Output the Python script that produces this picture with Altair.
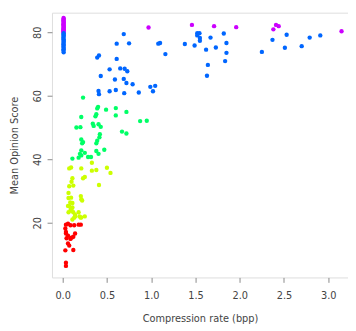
import altair as alt
import pandas as pd

# Compression rate (bpp) and Mean Opinion Score
rate = [
    # column at ~0 bpp
    0.010, 0.012, 0.008, 0.011, 0.009, 0.012, 0.010, 0.008, 0.011, 0.010, 0.012, 0.009, 0.010, 0.011, 0.008, 0.010,
    0.011, 0.009, 0.012, 0.010, 0.008, 0.011, 0.010, 0.012, 0.009, 0.010, 0.011, 0.008, 0.012, 0.010, 0.009, 0.011,
    # magenta
    0.97, 1.46, 1.71, 1.96, 2.38, 2.41, 2.44, 3.15,
    # blue
    0.69, 0.61, 0.75, 0.41, 0.39, 0.61, 0.53, 0.65, 0.70, 0.73, 0.43, 0.59, 0.69, 0.72, 0.79, 0.405,
    0.41, 0.53, 0.60, 0.695, 0.86, 0.99, 1.045, 1.02, 1.10, 1.08, 1.16, 1.52, 1.545, 1.52, 1.55, 1.55,
    1.67, 1.38, 1.49, 1.62, 1.73, 1.82, 1.85, 1.85, 1.835, 1.64, 1.63, 2.25, 2.37, 2.53, 2.51, 2.70,
    2.79, 2.91,
    # green
    0.23, 0.40, 0.39, 0.49, 0.60, 0.72, 0.21, 0.37, 0.38, 0.60, 0.875, 0.95, 0.34, 0.35, 0.405, 0.43,
    0.155, 0.20, 0.42, 0.415, 0.67, 0.72, 0.21, 0.23, 0.22, 0.39, 0.38, 0.21, 0.195, 0.21, 0.25, 0.287,
    0.32, 0.38, 0.405, 0.47, 0.11, 0.18,
    # yellow
    0.33, 0.095, 0.074, 0.21, 0.33, 0.38, 0.50, 0.54, 0.25, 0.11, 0.23, 0.10, 0.074, 0.12, 0.41, 0.066,
    0.095, 0.066, 0.205, 0.21, 0.22, 0.085, 0.11, 0.06, 0.074, 0.11, 0.10, 0.09, 0.095, 0.12, 0.18, 0.066,
    0.14, 0.14, 0.19, 0.21, 0.25, 0.13, 0.205, 0.11,
    # red
    0.037, 0.06, 0.088, 0.13, 0.18, 0.205, 0.03, 0.037, 0.037, 0.14, 0.06, 0.044, 0.088, 0.10, 0.12, 0.06,
    0.074, 0.03, 0.12, 0.037, 0.037,
]

mos = [
    84.5, 84.2, 83.9, 83.6, 83.3, 83.0, 82.7, 82.4, 82.1, 81.8, 81.5, 81.2, 80.9, 80.6, 80.3, 80.0,
    79.7, 79.3, 79.0, 78.6, 78.2, 77.8, 77.4, 77.0, 76.6, 76.2, 75.8, 75.4, 75.0, 74.6, 74.2, 73.7,
    81.5, 82.3, 81.9, 81.6, 80.9, 82.3, 81.9, 80.3,
    79.4, 76.4, 76.5, 72.7, 72.0, 71.6, 68.3, 68.6, 68.5, 67.7, 66.2, 65.1, 65.3, 64.0, 63.6, 61.5,
    60.5, 61.4, 61.8, 60.8, 61.0, 62.8, 63.1, 61.4, 76.6, 76.4, 73.1, 79.7, 79.7, 79.0, 78.2, 77.3,
    78.3, 76.3, 75.8, 74.5, 75.2, 79.6, 76.6, 73.5, 70.9, 69.7, 66.3, 73.8, 77.6, 79.2, 75.1, 75.6,
    78.3, 79.0,
    59.4, 56.5, 56.0, 55.6, 56.1, 54.9, 53.3, 53.5, 54.2, 53.8, 52.0, 52.1, 51.2, 50.5, 51.0, 50.2,
    50.0, 50.1, 47.9, 46.9, 48.7, 48.1, 46.2, 45.4, 45.0, 45.8, 45.0, 42.8, 41.7, 41.2, 42.0, 40.7,
    40.7, 42.6, 41.7, 43.0, 40.2, 40.5,
    38.9, 37.4, 37.1, 37.1, 36.4, 36.6, 37.3, 35.7, 34.4, 34.0, 34.0, 32.9, 31.5, 31.7, 31.9, 29.4,
    27.9, 27.8, 28.4, 27.4, 27.0, 26.4, 26.2, 25.3, 25.3, 24.8, 24.3, 24.3, 23.8, 23.3, 23.3, 23.3,
    22.5, 22.0, 22.0, 21.7, 22.0, 21.6, 21.6, 21.0,
    19.4, 19.7, 19.2, 19.2, 19.4, 19.4, 18.2, 17.1, 16.6, 16.6, 15.9, 15.1, 14.9, 15.3, 15.6, 13.5,
    12.8, 11.3, 11.4, 7.4, 6.4,
]

x_ticks = [0.0, 0.5, 1.0, 1.5, 2.0, 2.5, 3.0]
y_ticks = [20, 40, 60, 80]
bins = [20, 40, 60, 80]
palette = ["#FF0000", "#CCFF00", "#00FF66", "#0066FF", "#CC00FF"]

df = pd.DataFrame({"rate": rate, "mos": mos})

font = "DejaVu Sans"
chart = (
    alt.Chart(df)
    .mark_circle(size=20, opacity=1)
    .encode(
        x=alt.X(
            "rate:Q",
            scale=alt.Scale(domain=[-0.121, 3.223], nice=False, zero=False),
            axis=alt.Axis(
                values=x_ticks, format=".1f", title="Compression rate (bpp)",
                grid=False, domain=False, tickSize=5, tickColor="#888",
                labelFont=font, labelFontSize=10, labelColor="#444", labelPadding=9,
                titleFont=font, titleFontSize=10, titleColor="#444", titleFontWeight="normal",
                titlePadding=13,
            ),
        ),
        y=alt.Y(
            "mos:Q",
            scale=alt.Scale(domain=[2.77, 86.15], nice=False, zero=False),
            axis=alt.Axis(
                values=y_ticks, title="Mean Opinion Score",
                grid=False, domain=False, tickSize=5, tickColor="#888",
                labelAngle=270, labelAlign="center", labelBaseline="bottom",
                labelFont=font, labelFontSize=10, labelColor="#444", labelPadding=5,
                titleFont=font, titleFontSize=10, titleColor="#444", titleFontWeight="normal",
                titlePadding=13,
            ),
        ),
        color=alt.Color(
            "mos:Q",
            scale=alt.Scale(type="threshold", domain=bins, range=palette),
            legend=None,
        ),
    )
    .properties(
        width=303, height=271,
        autosize=alt.AutoSizeParams(type="none"),
        padding={"left": 45, "top": 1, "right": 0, "bottom": 50},
    )
    .configure_view(stroke="#999", strokeWidth=1)
    .configure(background="white")
)

chart.save("out.html", embed_options={"renderer": "svg", "actions": False})
